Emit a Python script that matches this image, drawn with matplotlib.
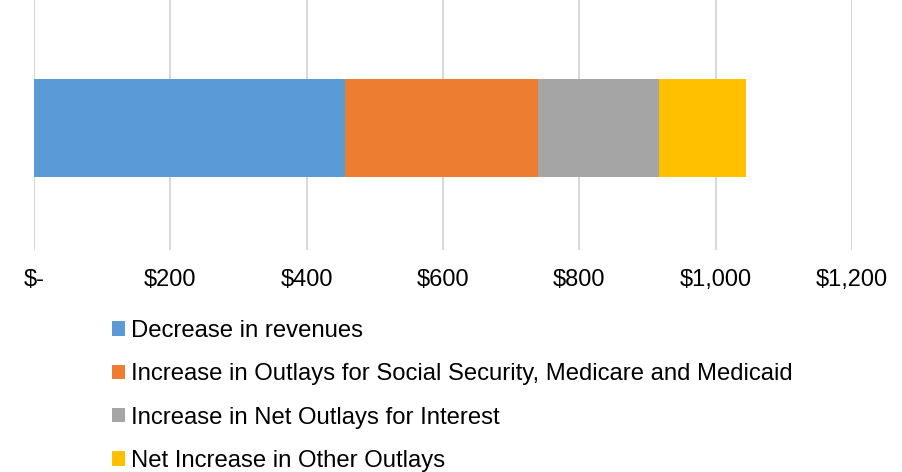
import matplotlib

matplotlib.use('Agg')

import matplotlib.pyplot as plt
from matplotlib.patches import Patch
from matplotlib.ticker import FuncFormatter

# Составляющие роста дефицита, млрд $
labels = ['Decrease in revenues',
          'Increase in Outlays for Social Security, Medicare and Medicaid',
          'Increase in Net Outlays for Interest',
          'Net Increase in Other Outlays']
values = [456, 284, 177, 127]
colors = ['#5b9bd5', '#ed7d31', '#a5a5a5', '#ffc000']

ticks = [0, 200, 400, 600, 800, 1000, 1200]

plt.rcParams['font.family'] = ['Liberation Sans', 'DejaVu Sans']

fig = plt.figure(figsize=(9.03, 4.72), dpi=100)
ax = fig.add_axes([34 / 903, 1 - 250 / 472, (852 - 34) / 903, 250 / 472])

# Рисуем сегменты друг за другом
left = 0
for val, col in zip(values, colors):
    ax.barh(0, val, left=left, height=1.0, color=col, zorder=3)
    left += val

ax.set_xlim(0, 1200)
ax.set_ylim(-1.245, 1.306)
ax.set_xticks(ticks)
ax.xaxis.set_major_formatter(FuncFormatter(lambda v, p: '$-' if v == 0 else f'${v:,.0f}'))
ax.tick_params(axis='x', length=0, labelsize=17, pad=13.7, colors='#000000')
ax.set_yticks([])
ax.grid(axis='x', color='#d9d9d9', linewidth=1.5, zorder=0)
for s in ax.spines.values():
    s.set_visible(False)

# Легенда столбиком под графиком
handles = [Patch(facecolor=c, edgecolor='none') for c in colors]
fig.legend(handles, labels, loc='upper left', bbox_to_anchor=(112 / 903, 1 - 320 / 472),
           frameon=False, fontsize=17.2, borderpad=0, borderaxespad=0,
           handlelength=0.55, handleheight=0.55, handletextpad=0.25,
           labelspacing=0.89)

fig.savefig('out.png', dpi=100)
